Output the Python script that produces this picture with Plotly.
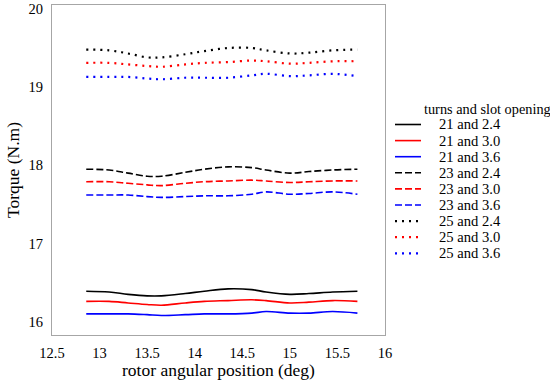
import plotly.graph_objects as go

# rotor angular position (deg)
x_pos = [12.86, 13.1, 13.3, 13.5, 13.65, 13.9, 14.1, 14.35, 14.6, 14.75, 15.0, 15.2, 15.45, 15.71]

# torque (N.m) per design: turns and slot opening
t21_24 = [16.39, 16.38, 16.35, 16.33, 16.33, 16.36, 16.39, 16.42, 16.41, 16.38, 16.35, 16.36, 16.38, 16.39]
t21_30 = [16.26, 16.26, 16.24, 16.22, 16.21, 16.24, 16.26, 16.27, 16.28, 16.27, 16.24, 16.25, 16.27, 16.26]
t21_36 = [16.10, 16.10, 16.10, 16.09, 16.08, 16.09, 16.10, 16.10, 16.11, 16.13, 16.11, 16.11, 16.13, 16.11]
t23_24 = [17.95, 17.94, 17.90, 17.86, 17.86, 17.91, 17.95, 17.98, 17.97, 17.94, 17.90, 17.92, 17.94, 17.95]
t23_30 = [17.79, 17.79, 17.77, 17.75, 17.74, 17.77, 17.79, 17.80, 17.81, 17.80, 17.78, 17.79, 17.80, 17.80]
t23_36 = [17.62, 17.62, 17.62, 17.60, 17.59, 17.60, 17.61, 17.61, 17.63, 17.66, 17.63, 17.64, 17.66, 17.63]
t25_24 = [19.48, 19.47, 19.43, 19.38, 19.38, 19.42, 19.46, 19.50, 19.50, 19.47, 19.43, 19.44, 19.47, 19.48]
t25_30 = [19.31, 19.31, 19.29, 19.27, 19.26, 19.29, 19.31, 19.32, 19.34, 19.33, 19.30, 19.31, 19.33, 19.33]
t25_36 = [19.13, 19.13, 19.13, 19.11, 19.10, 19.12, 19.12, 19.12, 19.15, 19.17, 19.14, 19.15, 19.17, 19.14]

series_names = ["21 and 2.4", "21 and 3.0", "21 and 3.6",
                "23 and 2.4", "23 and 3.0", "23 and 3.6",
                "25 and 2.4", "25 and 3.0", "25 and 3.6"]
series_values = [t21_24, t21_30, t21_36, t23_24, t23_30, t23_36, t25_24, t25_30, t25_36]
legend_title = "turns and slot opening"
x_title = "rotor angular position (deg)"
y_title = "Torque (N.m)"

x_ticks = [12.5, 13, 13.5, 14, 14.5, 15, 15.5, 16]
x_ticklabels = ["12.5", "13", "13.5", "14", "14.5", "15", "15.5", "16"]
y_ticks = [16, 17, 18, 19, 20]
y_ticklabels = ["16", "17", "18", "19", "20"]

colors = ["#000000", "#ff0000", "#0000ff"]
dashes = ["solid", "7px,3px", "2px,5px"]
widths = [1.6, 1.6, 2.2]

FONT = "Liberation Serif"

fig = go.Figure()
for i, (name, vals) in enumerate(zip(series_names, series_values)):
    g = i // 3
    c = i % 3
    fig.add_trace(go.Scatter(
        x=x_pos, y=vals, mode="lines", name=name,
        line=dict(color=colors[c], dash=dashes[g], width=widths[g], shape="spline", smoothing=1.0),
        showlegend=False,
    ))

# plot area geometry (pixels)
L, R, T, B = 52, 385, 5, 335
W, H = 550, 384
pw, ph = R - L, B - T

def px2paper_x(px):
    return (px - L) / pw

def px2paper_y(py):
    return (B - py) / ph

annotations = []
shapes = []
annotations.append(dict(
    x=px2paper_x(422), y=px2paper_y(109), xref="paper", yref="paper",
    text=legend_title, showarrow=False, xanchor="left", yanchor="middle",
    font=dict(family=FONT, size=14.3, color="black"),
))
for i, name in enumerate(series_names):
    g = i // 3
    c = i % 3
    yy = px2paper_y(124.5 + 16.1 * i)
    shapes.append(dict(
        type="line", xref="paper", yref="paper",
        x0=px2paper_x(395), x1=px2paper_x(421), y0=yy, y1=yy,
        line=dict(color=colors[c], dash=dashes[g], width=widths[g]),
    ))
    annotations.append(dict(
        x=px2paper_x(437), y=yy, xref="paper", yref="paper",
        text=name, showarrow=False, xanchor="left", yanchor="middle",
        font=dict(family=FONT, size=14.6, color="black"),
    ))

# axis titles
annotations.append(dict(
    x=0.5, y=px2paper_y(370), xref="paper", yref="paper",
    text=x_title, showarrow=False, xanchor="center", yanchor="middle",
    font=dict(family=FONT, size=17.5, color="black"),
))
annotations.append(dict(
    x=px2paper_x(13), y=0.5, xref="paper", yref="paper",
    text=y_title, showarrow=False, xanchor="center", yanchor="middle", textangle=-90,
    font=dict(family=FONT, size=17.5, color="black"),
))

axis_common = dict(
    showline=True, mirror=True, linecolor="#a6a6a6", linewidth=1,
    showgrid=False, zeroline=False, automargin=False,
    ticks="outside", ticklen=5, tickcolor="rgba(0,0,0,0)",
    tickfont=dict(family=FONT, size=14.5, color="black"),
)

fig.update_layout(
    width=W, height=H,
    margin=dict(l=L, r=W - R, t=T, b=H - B),
    paper_bgcolor="white", plot_bgcolor="white",
    xaxis=dict(range=[12.5, 16], tickvals=x_ticks, ticktext=x_ticklabels, **axis_common),
    yaxis=dict(range=[15.83, 20.05], tickvals=y_ticks, ticktext=y_ticklabels, **axis_common),
    annotations=annotations,
    shapes=shapes,
    showlegend=False,
)

fig.write_html("out.html", config={"displayModeBar": False},
               post_script="document.body.style.margin='0px';")
